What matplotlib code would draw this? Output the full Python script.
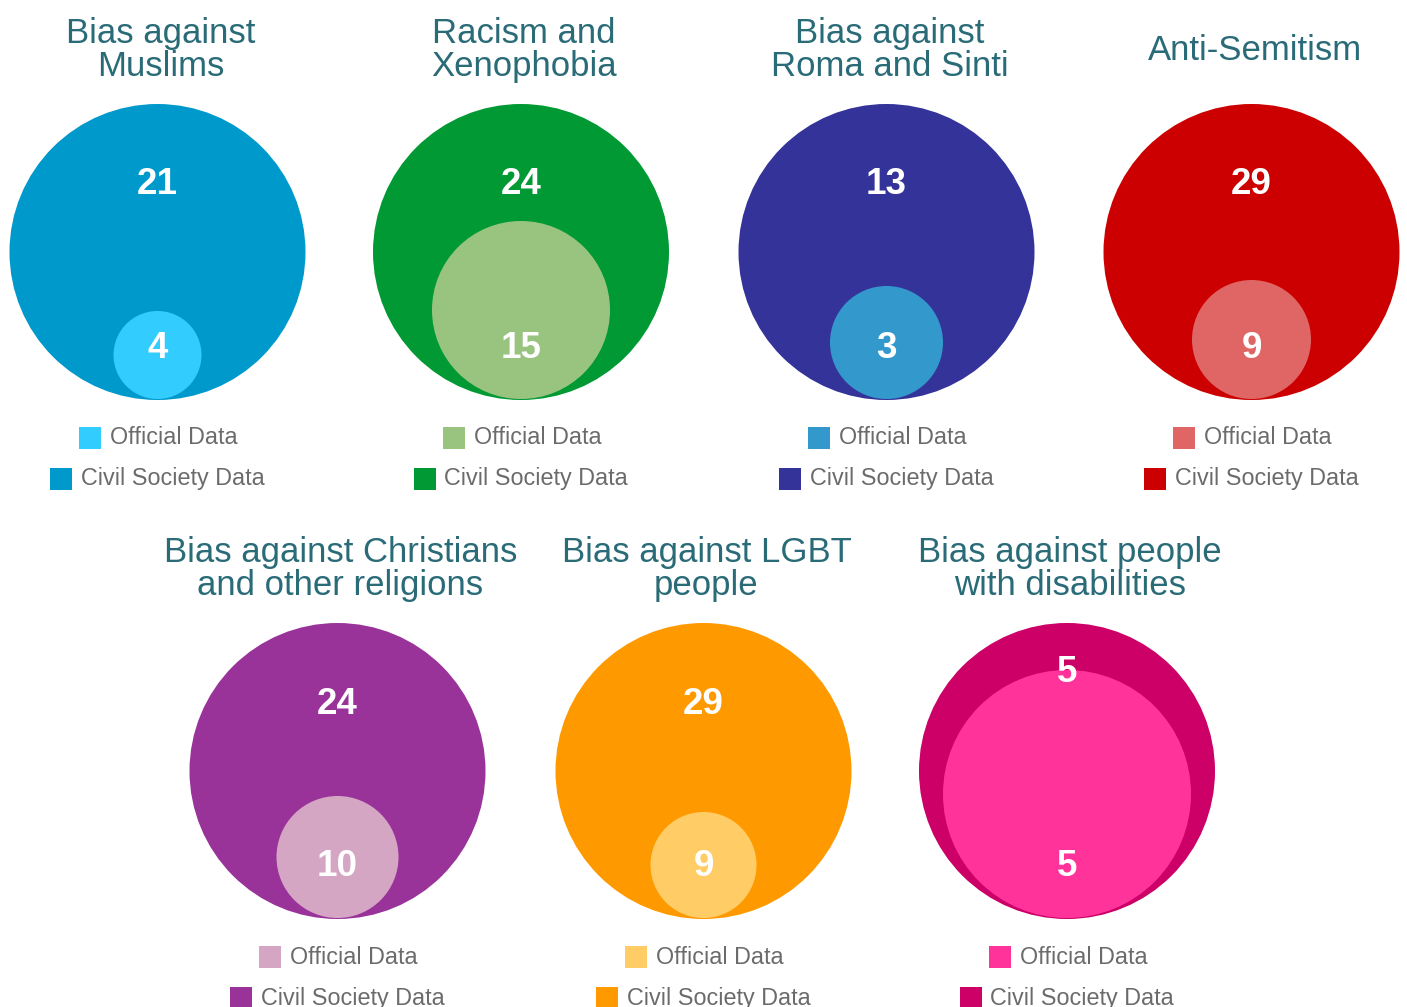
import matplotlib
matplotlib.use('Agg')
import matplotlib.pyplot as plt
from matplotlib.patches import Circle, Rectangle

plt.rcParams['font.family'] = ['Liberation Sans', 'DejaVu Sans']

# ── DATA ────────────────────────────────────────────────────────────────────
titles = ['Bias against\nMuslims', 'Racism and\nXenophobia',
          'Bias against\nRoma and Sinti', 'Anti-Semitism',
          'Bias against Christians\nand other religions',
          'Bias against LGBT\npeople', 'Bias against people\nwith disabilities']
civil_society = [21, 24, 13, 29, 24, 29, 5]
official      = [4, 15, 3, 9, 10, 9, 5]
civil_colors    = ['#0099cc', '#009933', '#333399', '#cc0000',
                   '#993399', '#ff9900', '#cc0066']
official_colors = ['#33ccff', '#99c47f', '#3399cc', '#e06666',
                   '#d5a6c4', '#ffcc66', '#ff3399']

# ── LAYOUT (pixels) ─────────────────────────────────────────────────────────
centers = [(157.5, 252), (521, 252), (886.5, 252), (1251.5, 252),
           (337.5, 771), (703.5, 771), (1067, 771)]
R_OUT = 148
inner_r = [44, 89, 56.5, 59.5, 61, 53, 124]
TITLE_C = '#2a6b78'
LEG_C = '#6b6b6b'

fig = plt.figure(figsize=(14.07, 10.07), dpi=100, facecolor='white')
ax = fig.add_axes([0, 0, 1, 1])
ax.set_xlim(0, 1407)
ax.set_ylim(1007, 0)
ax.axis('off')

for i, (cx, cy) in enumerate(centers):
    bottom = cy + R_OUT
    ax.add_patch(Circle((cx, cy), R_OUT, color=civil_colors[i], lw=0))
    r = inner_r[i]
    ax.add_patch(Circle((cx, bottom - r - 1), r, color=official_colors[i], lw=0))

    # numbers
    top_dy = -99 if i == 6 else -67
    ax.text(cx, cy + top_dy, str(civil_society[i]), color='white',
            fontsize=26.5, fontweight='bold', ha='center', va='center')
    ax.text(cx, cy + 96, str(official[i]), color='white',
            fontsize=26.5, fontweight='bold', ha='center', va='center')

    # title
    ty = cy - 202
    ax.text(cx + 3, ty, titles[i], color=TITLE_C, fontsize=25,
            ha='center', va='center', linespacing=1.0)

    # legend
    ly1 = bottom + 38
    ly2 = bottom + 79
    ax.add_patch(Rectangle((cx - 78.5, ly1 - 11), 22, 22,
                           color=official_colors[i], lw=0))
    ax.text(cx - 47.5, ly1, 'Official Data', color=LEG_C, fontsize=16.8,
            ha='left', va='center')
    ax.add_patch(Rectangle((cx - 107.5, ly2 - 11), 22, 22,
                           color=civil_colors[i], lw=0))
    ax.text(cx - 76.5, ly2, 'Civil Society Data', color=LEG_C, fontsize=16.8,
            ha='left', va='center')

fig.savefig('out.png', dpi=100, facecolor='white')
